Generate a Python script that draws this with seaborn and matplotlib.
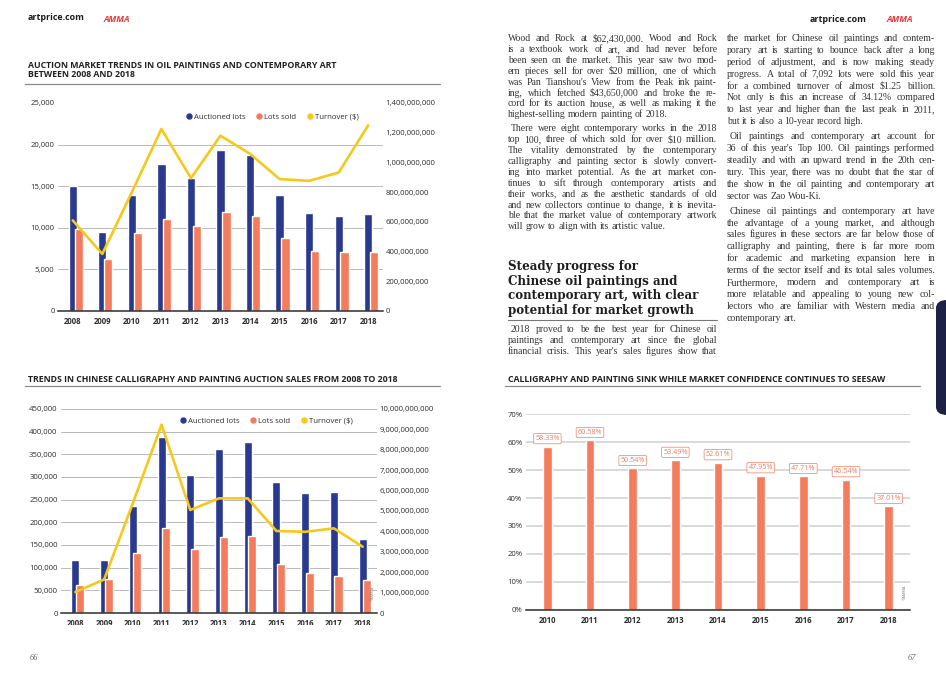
import numpy as np
import pandas as pd
import matplotlib
matplotlib.use("Agg")
import matplotlib.pyplot as plt
import seaborn as sns
from matplotlib.lines import Line2D
from matplotlib.patches import Rectangle, FancyBboxPatch
from matplotlib.ticker import FuncFormatter

W, H = 946, 680

# --- data ---
years = ["2008", "2009", "2010", "2011", "2012", "2013", "2014", "2015", "2016", "2017", "2018"]

oil_lots = [15000, 9500, 14000, 17700, 16000, 19400, 18800, 14000, 11800, 11400, 11600]
oil_sold = [9800, 6300, 9400, 11100, 10200, 11900, 11400, 8800, 7200, 7100, 7092]
oil_turnover = [610e6, 384e6, 800e6, 1225e6, 894e6, 1180e6, 1058e6, 888e6, 876e6, 932e6, 1250e6]

callig_lots = [118000, 118000, 237000, 389000, 304000, 361000, 377000, 288000, 264000, 268000, 163000]
callig_sold = [62000, 74500, 132000, 187000, 142000, 167000, 169000, 108000, 89000, 82000, 72000]
callig_turnover = [1.03e9, 1.64e9, 5.38e9, 9.23e9, 5.05e9, 5.62e9, 5.62e9, 4.02e9, 3.98e9, 4.15e9, 3.25e9]

ratio_years = ["2010", "2011", "2012", "2013", "2014", "2015", "2016", "2017", "2018"]
ratio = [58.33, 60.58, 50.54, 53.49, 52.61, 47.95, 47.71, 46.54, 37.01]

legend_labels = ["Auctioned lots", "Lots sold", "Turnover ($)"]

NAVY = "#2a3990"
SALMON = "#f47b5b"
YELLOW = "#f7c81c"
GRID = "#b9b9b9"
INK = "#2e2e2e"
BODY = "#333333"
SERIF = ["Liberation Serif", "DejaVu Serif"]

sns.set_theme(style="white")
plt.rcParams["font.family"] = ["Open Sans", "DejaVu Sans"]

fig = plt.figure(figsize=(W / 100, H / 100), dpi=100)


def fx(x):
    return x / W


def fy(y):
    return 1 - y / H


def box(x0, y0, x1, y1):
    return [x0 / W, 1 - y1 / H, (x1 - x0) / W, (y1 - y0) / H]


def hline(x0, x1, y, color="#8a8a8a", lw=0.9):
    fig.add_artist(Line2D([fx(x0), fx(x1)], [fy(y), fy(y)], color=color, lw=lw))


def combo(rect, lots, sold, turnover, ymax, ystep, rmax, rstep, offset, legend_xy, hide_top=False):
    ax = fig.add_axes(box(*rect))
    pos = np.arange(len(years))
    df = pd.DataFrame({"pos": pos, "lots": lots, "sold": sold})
    sns.barplot(data=df, x="pos", y="lots", native_scale=True, width=0.28,
                color=NAVY, saturation=1, ax=ax)
    df2 = df.assign(pos=df["pos"] + offset)
    sns.barplot(data=df2, x="pos", y="sold", native_scale=True, width=0.28,
                color=SALMON, saturation=1, ax=ax)
    ax.set_xlim(-0.5, len(years) - 0.5)
    ax.set_ylim(0, ymax)
    ax.set_yticks(np.arange(0, ymax + 1, ystep))
    ax.yaxis.set_major_formatter(FuncFormatter(lambda v, _: f"{v:,.0f}"))
    ax.set_xticks(pos, years)
    ax.set_xticks(pos[:-1] + 0.5, minor=True)
    ax.set_xlabel("")
    ax.set_ylabel("")
    ax.grid(axis="y", color=GRID, lw=0.7)
    ax.set_axisbelow(True)
    if hide_top:
        ax.get_ygridlines()[-1].set_visible(False)
    sns.despine(ax=ax, left=True)
    ax.spines["bottom"].set_color(INK)
    ax.spines["bottom"].set_linewidth(1.1)
    ax.tick_params(axis="y", length=0, pad=2.5, labelsize=5.6, labelcolor=INK)
    ax.tick_params(axis="x", which="major", length=0, pad=4, labelsize=5.6, labelcolor=INK)
    ax.tick_params(axis="x", which="minor", length=1.6, width=1.4, color=INK, direction="out")
    for t in ax.get_xticklabels():
        t.set_fontweight("bold")

    ax2 = ax.twinx()
    sns.lineplot(x=pos, y=turnover, ax=ax2, color=YELLOW, lw=1.9)
    ax2.set_ylim(0, rmax)
    ax2.set_yticks(np.arange(0, rmax + 1, rstep))
    ax2.yaxis.set_major_formatter(FuncFormatter(lambda v, _: f"{v:,.0f}"))
    ax2.grid(False)
    for s in ax2.spines.values():
        s.set_visible(False)
    ax2.tick_params(axis="y", length=0, pad=2, labelsize=5.6, labelcolor=INK)
    ax2.set_ylabel("")

    handles = [Line2D([], [], marker="o", ls="", color=c, markersize=3.6)
               for c in (NAVY, SALMON, YELLOW)]
    fig.legend(handles, legend_labels, loc="center", bbox_to_anchor=(fx(legend_xy[0]), fy(legend_xy[1])),
               ncol=3, frameon=False, fontsize=5.6, handletextpad=0.1, columnspacing=1.3,
               borderpad=0, handlelength=1.0, labelcolor=INK)
    return ax


# --- header ---
fig.text(fx(28), fy(18), "artprice.com", fontsize=6.4, weight="bold", color="#1a1a1a", va="center")
fig.text(fx(104), fy(19), "AMMA", fontsize=6.3, weight="bold", style="italic", color="#e23a3a", va="center")
fig.text(fx(810), fy(20), "artprice.com", fontsize=6.4, weight="bold", color="#1a1a1a", va="center")
fig.text(fx(887), fy(20), "AMMA", fontsize=6.3, weight="bold", style="italic", color="#e23a3a", va="center")

# --- chart 1 ---
fig.text(fx(28), fy(70), "AUCTION MARKET TRENDS IN OIL PAINTINGS AND CONTEMPORARY ART\nBETWEEN 2008 AND 2018",
         fontsize=6.3, weight="bold", color="#222222", va="center", linespacing=1.1)
hline(25, 440, 84)
combo((58, 103, 383, 311), oil_lots, oil_sold, oil_turnover, 25000, 5000, 1.4e9, 2e8, 0.2,
      (272, 117), hide_top=True)

# --- chart 2 ---
fig.text(fx(28), fy(379), "TRENDS IN CHINESE CALLIGRAPHY AND PAINTING AUCTION SALES FROM 2008 TO 2018",
         fontsize=6.3, weight="bold", color="#222222", va="center")
hline(25, 440, 386)
combo((61, 409, 377, 613), callig_lots, callig_sold, callig_turnover, 450000, 50000, 1e10, 1e9, 0.16,
      (266, 421))
fig.text(fx(373), fy(593), "©AMMA", rotation=90, fontsize=2.8, color="#777777", ha="center", va="center")
fig.add_artist(Rectangle((fx(40), fy(642)), (395 - 40) / W, (642 - 624.5) / H, transform=fig.transFigure,
                         fc="white", ec="none", zorder=10))

# --- chart 3 ---
fig.text(fx(508), fy(379), "CALLIGRAPHY AND PAINTING SINK WHILE MARKET CONFIDENCE CONTINUES TO SEESAW",
         fontsize=6.3, weight="bold", color="#222222", va="center")
hline(505, 920, 386)
ax3 = fig.add_axes(box(526, 414, 910, 610))
sns.barplot(x=ratio_years, y=ratio, color=SALMON, saturation=1, width=0.2, ax=ax3)
ax3.set_ylim(0, 70)
ax3.set_yticks(np.arange(0, 71, 10))
ax3.yaxis.set_major_formatter(FuncFormatter(lambda v, _: f"{v:.0f}%"))
ax3.set_xticks(np.arange(len(ratio_years) - 1) + 0.5, minor=True)
ax3.grid(axis="y", color="#d3d3d3", lw=1.2)
ax3.set_axisbelow(True)
sns.despine(ax=ax3, left=True)
ax3.spines["bottom"].set_color(INK)
ax3.spines["bottom"].set_linewidth(1.1)
ax3.tick_params(axis="y", length=0, pad=2.5, labelsize=5.6, labelcolor=INK)
ax3.tick_params(axis="x", which="major", length=0, pad=4, labelsize=5.6, labelcolor=INK)
ax3.tick_params(axis="x", which="minor", length=1.6, width=1.4, color=INK, direction="out")
for t in ax3.get_xticklabels():
    t.set_fontweight("bold")
ax3.bar_label(ax3.containers[0], labels=[f"{v:.2f}%" for v in ratio], padding=3.2, fontsize=5.2,
              color=SALMON, bbox=dict(boxstyle="round,pad=0.22,rounding_size=0.15", fc="white",
                                      ec=SALMON, lw=0.5))
fig.text(fx(905), fy(592), "©AMMA", rotation=90, fontsize=2.8, color="#777777", ha="center", va="center")

# --- body text (justified by hand) ---
renderer = fig.canvas.get_renderer()
BODY_SIZE = 7.0


def justified(lines, x0, x1, y, step, size=BODY_SIZE, indent=3, free_last=True):
    for i, line in enumerate(lines):
        words = line.split()
        left = x0 + (indent if i == 0 else 0)
        avail = x1 - left
        fs = size
        texts = [fig.text(0, 0, w, fontsize=fs, family=SERIF, color=BODY, va="baseline") for w in words]
        widths = [t.get_window_extent(renderer).width for t in texts]
        need = sum(widths) + 1.6 * (len(words) - 1)
        if need > avail:
            # squeeze an over-long line a little
            fs = size * avail / need
            for t in texts:
                t.set_fontsize(fs)
            widths = [t.get_window_extent(renderer).width for t in texts]
        if (i == len(lines) - 1 and free_last) or len(words) == 1:
            gap = fs * 100 / 72 * 0.25
        else:
            gap = (avail - sum(widths)) / (len(words) - 1)
        x = left
        for t, w in zip(texts, widths):
            t.set_position((fx(x), fy(y)))
            x += w + gap
        y += step
    return y


para_a = ["Wood and Rock at $62,430,000. Wood and Rock",
          "is a textbook work of art, and had never before",
          "been seen on the market. This year saw two mod-",
          "ern pieces sell for over $20 million, one of which",
          "was Pan Tianshou's View from the Peak ink paint-",
          "ing, which fetched $43,650,000 and broke the re-",
          "cord for its auction house, as well as making it the",
          "highest-selling modern painting of 2018."]
para_b = ["There were eight contemporary works in the 2018",
          "top 100, three of which sold for over $10 million.",
          "The vitality demonstrated by the contemporary",
          "calligraphy and painting sector is slowly convert-",
          "ing into market potential. As the art market con-",
          "tinues to sift through contemporary artists and",
          "their works, and as the aesthetic standards of old",
          "and new collectors continue to change, it is inevita-",
          "ble that the market value of contemporary artwork",
          "will grow to align with its artistic value."]
para_c = ["2018 proved to be the best year for Chinese oil",
          "paintings and contemporary art since the global",
          "financial crisis. This year's sales figures show that"]
para_d = ["the market for Chinese oil paintings and contem-",
          "porary art is starting to bounce back after a long",
          "period of adjustment, and is now making steady",
          "progress. A total of 7,092 lots were sold this year",
          "for a combined turnover of almost $1.25 billion.",
          "Not only is this an increase of 34.12% compared",
          "to last year and higher than the last peak in 2011,",
          "but it is also a 10-year record high."]
para_e = ["Oil paintings and contemporary art account for",
          "36 of this year's Top 100. Oil paintings performed",
          "steadily and with an upward trend in the 20th cen-",
          "tury. This year, there was no doubt that the star of",
          "the show in the oil painting and contemporary art",
          "sector was Zao Wou-Ki."]
para_f = ["Chinese oil paintings and contemporary art have",
          "the advantage of a young market, and although",
          "sales figures in these sectors are far below those of",
          "calligraphy and painting, there is far more room",
          "for academic and marketing expansion here in",
          "terms of the sector itself and its total sales volumes.",
          "Furthermore, modern and contemporary art is",
          "more relatable and appealing to young new col-",
          "lectors who are familiar with Western media and",
          "contemporary art."]

y = justified(para_a, 508, 717, 41, 10.9, indent=0)
justified(para_b, 508, 717, y + 3, 10.9)
y = justified(para_d, 727, 935, 41, 11.9, indent=0)
y = justified(para_e, 727, 935, y + 3, 11.9)
justified(para_f, 727, 935, y + 3, 11.9)

heading = ["Steady progress for", "Chinese oil paintings and",
           "contemporary art, with clear", "potential for market growth"]
for i, line in enumerate(heading):
    fig.text(fx(508), fy(270 + 14.6 * i), line, fontsize=8.6, weight="bold",
             family=["DejaVu Serif"], color="#1e1e1e", va="baseline")
hline(508, 717, 320, color="#777777", lw=0.8)
justified(para_c, 508, 717, 332, 10.8, free_last=False)

# --- side tab and page numbers ---
fig.add_artist(FancyBboxPatch((fx(936), fy(415)), 30 / W, (415 - 300) / H,
                              boxstyle="round,pad=0,rounding_size=0.012", transform=fig.transFigure,
                              fc="#1d2146", ec="none"))
fig.text(fx(30), fy(658), "66", fontsize=6, style="italic", family=SERIF, color="#666666", va="center")
fig.text(fx(908), fy(658), "67", fontsize=6, style="italic", family=SERIF, color="#666666", va="center")

fig.savefig("out.png", dpi=100, facecolor="white")
